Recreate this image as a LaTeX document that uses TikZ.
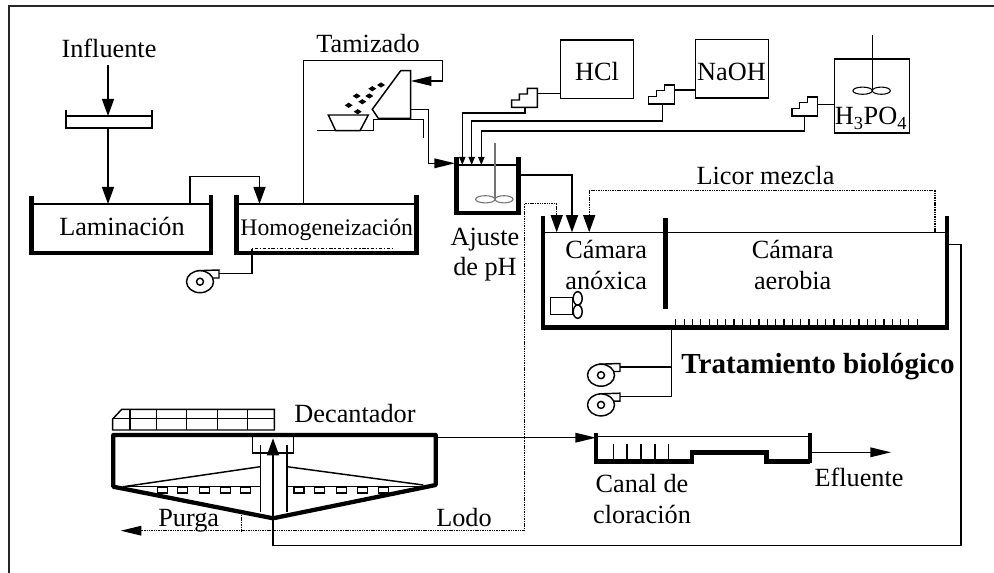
\documentclass[tikz,border=0pt]{standalone}
\usepackage{fontspec}
\setmainfont{Liberation Serif}
\usepackage{tikz}
\usetikzlibrary{positioning,arrows.meta}

\newcommand{\blowerAt}[2]{%
  \begin{scope}[shift={(#1,#2)}]
    \draw[pipe,fill=white] (-21,-2.8) -- (0,-3.5) -- (0,4.5) -- (-7,4.5);
    \draw[pipe,fill=white] (-19,8.2) ellipse [x radius=13.5,y radius=11];
    \draw[pipe] (-19,8.2) circle [radius=3.5];
  \end{scope}}
\newcommand{\pumpAt}[2]{%
  \draw[pipe] (#1,#2) -- ++(0,-7.3) -- ++(7.7,0) -- ++(0,-6) -- ++(8,0) -- ++(0,-5.7) -- ++(10,0) -- ++(0,19) -- cycle;}
\newcommand{\impeller}[2]{%
  \draw[#2] (#1) ++(-9.7,0) ellipse [x radius=9.7,y radius=3.6];
  \draw[#2] (#1) ++(9,0) ellipse [x radius=9,y radius=3.6];}

\begin{document}
\begin{tikzpicture}[
  x=0.75pt, y=-0.75pt,
  every node/.style={inner sep=0pt},
  lbl/.style={anchor=base, font=\fontsize{19.7}{23}\selectfont},
  twolines/.style={lbl, align=center},
  pipe/.style={line width=1.1pt, line join=miter},
  hair/.style={line width=0.8pt},
  frameline/.style={line width=1.5pt, black!85},
  wall/.style={line width=3.4pt, line join=miter},
  clar/.style={line width=3.2pt, line join=round, line cap=round},
  dotline/.style={line width=0.8pt, dash pattern=on 0.8pt off 0.5pt, black},
  gear/.style={line width=0.8pt, black!55},
  headA/.style={-{Triangle[length=12.8pt,width=9pt]}},
  headB/.style={-{Triangle[length=15.5pt,width=7.2pt]}},
  headC/.style={-{Triangle[length=6pt,width=4.6pt]}},
]
\useasboundingbox (0,0) rectangle (994,573);
\draw[frameline] (9,573) -- (9,6) -- (994,6);

% ---- texts
\node[lbl] (influente) at (109,57.3) {Influente};
\node[lbl] (tamizado) at (368,52.7) {Tamizado};
\node[lbl] (laminacion) at (122,236) {Laminación};
\node[lbl, font=\fontsize{17.8}{21}\selectfont] (homog) at (326.7,236) {Homogeneización};
\node[twolines] (ajuste) at (485,276) {Ajuste\\de pH};
\node[lbl] (licor) at (765.5,185) {Licor mezcla};
\node[twolines] (anoxica) at (606.2,289) {Cámara\\anóxica};
\node[twolines] (aerobia) at (792.7,289) {Cámara\\aerobia};
\node[lbl, font=\fontsize{21.8}{26}\selectfont\bfseries] (trat) at (818,373.3) {Tratamiento biológico};
\node[lbl] (decantador) at (355,422.7) {Decantador};
\node[lbl] (purga) at (188.7,526.7) {Purga};
\node[lbl] (lodo) at (464,526) {Lodo};
\node[twolines] (canal) at (642,523) {Canal de\\cloración};
\node[lbl] (efluente) at (859,486) {Efluente};

% ---- dosing tanks
\node[draw, line width=1.1pt, minimum width=54.4pt, minimum height=43.8pt] (hcl) at (597,69.2) {};
\node[lbl] at (597,80.7) {HCl};
\node[draw, line width=1.1pt, minimum width=54.4pt, minimum height=43.8pt] (naoh) at (732,68.8) {};
\node[lbl] at (731.5,80.7) {NaOH};
\node[draw, line width=1.1pt, minimum width=56.2pt, minimum height=55.5pt] (hpo) at (871.8,96) {};
\node[lbl] at (871,125) {H\textsubscript{3}PO\textsubscript{4}};
\draw[hair] (872.3,35) -- (872.3,90.7);
\coordinate (hpoMix) at (872.3,90.7);
\impeller{hpoMix}{hair}

% ---- pumps
\pumpAt{511.7}{107.3}
\pumpAt{648.7}{104}
\pumpAt{792}{116}
\coordinate (hclOut) at (537.3,93.7);
\coordinate (naohOut) at (674.4,90);
\coordinate (hpoOut) at (817.7,104.7);
\draw[pipe] (hclOut) -- (hclOut -| hcl.west);
\draw[pipe] (naohOut) -- (naohOut -| naoh.west);
\draw[pipe] (hpoOut) -- (hpoOut -| hpo.west);

% ---- influent and lamination
\coordinate (tray) at (108,116);
\coordinate (trayOut) at (108,128);
\coordinate (lamIn) at (108,204);
\coordinate (lamOut) at (190,204);
\coordinate (homIn) at (259.5,204);
\coordinate (homOut) at (303.3,204);
\draw[pipe] (66,110) -- (66,128) -- (152,128) -- (152,110) (66,116) -- (152,116);
\draw[pipe,headA] (108,65) -- (tray);
\draw[pipe,headA] (trayOut) -- (lamIn);
\draw[wall] (31.7,196) |- (211,253) -- (211,195);
\draw[pipe] (31.7,204) -- (211,204);
\draw[pipe,headA] (lamOut) -- ++(0,-27.5) -| (homIn);
\draw[wall] (236.5,195) |- (416.5,253) -- (416.5,195);
\draw[pipe] (236.5,204) -- (416.5,204);
\draw[hair, dash pattern=on 1pt off 1.4pt on 2.4pt off 1.4pt] (251.7,248.5) -- (393,248.5);

\coordinate (homDiff) at (252,249);
\coordinate (blowerA) at (219,273.5);
\blowerAt{219}{273.5}
\draw[pipe] (homDiff) |- (blowerA);

% ---- screen
\coordinate (screenIn) at (410.7,81);
\coordinate (screenOut) at (410.7,109.3);
\coordinate (phIn) at (455,163.3);
\draw[pipe] (400.7,70.7) -- (410.7,70.7) -- (410.7,118.3) -- (378.3,118.3) -- (372.3,109.3) -- cycle;
\draw[pipe] (316.7,130.7) -- (373.3,130.7) -- (373.3,119.6) -- (423.3,119.6) -- (423.3,138.3);
\draw[pipe] (328.3,115) -- (368.3,115) -- (360,130.7) -- (335.7,130.7) -- cycle;
\foreach \px/\py in {381/85,372.3/88.7,356.7/96,369.3/96,362.3/101.7,348.7/105.3,357.7/111.7}
  \fill (\px-4,\py) -- (\px,\py-2.6) -- (\px+4,\py) -- (\px,\py+2.6) -- cycle;
\draw[pipe,headB] (homOut) -- ++(0,-143.7) -- ++(139,0) |- (screenIn);
\draw[pipe,headB] (screenOut) -| (428.3,163.3) -- (phIn);

% ---- pH tank
\coordinate (phA) at (462.3,165);
\coordinate (phB) at (471.7,165);
\coordinate (phC) at (481.3,165);
\coordinate (phMix) at (495,199.3);
\coordinate (phOut) at (521,175);
\draw[wall] (456.3,157.3) |- (518.7,213) -- (518.7,157.3);
\draw[pipe] (456.3,165) -- (518.7,165);
\draw[gear] (495,142.7) -- (phMix);
\impeller{phMix}{gear}
\draw[pipe,headC] (525,107.3) |- (462.3,112.9) -- (phA);
\draw[pipe,headC] (662.3,104) |- (471.7,121) -- (phB);
\draw[pipe,headC] (804.3,116) |- (481.3,131) -- (phC);

% ---- biological tank
\coordinate (bioA) at (556.7,232.3);
\coordinate (bioB) at (572,232.3);
\coordinate (bioC) at (589.2,232.3);
\coordinate (bioOut) at (949,244.5);
\coordinate (bioAir) at (671.3,325);
\coordinate (mezclaOut) at (935,232.3);
\draw[wall] (543,216) |- (947,327.3) -- (947,216);
\draw[pipe] (543,232.3) -- (947,232.3);
\draw[wall] (665.7,218.3) -- (665.7,309);
\draw[pipe] (550.7,297.7) rectangle (572.3,314.3);
\draw[pipe] (577.7,298.4) ellipse [x radius=4.5,y radius=6.7];
\draw[pipe] (577.7,311.6) ellipse [x radius=4.5,y radius=6.7];
\foreach \tx in {0,...,29}
  \draw[hair] (675.7+8.33*\tx,319.3) -- ++(0,6);
\draw[pipe,headA] (phOut) -- ++(51,0) -- (bioB);
\draw[dotline,headA] (mezclaOut) |- (bioC |- 0,190.7) -- (bioC);

\blowerAt{620}{367}
\blowerAt{620}{396.7}
\coordinate (blowerB) at (620,367);
\coordinate (blowerC) at (620,396.7);
\draw[pipe] (bioAir) |- (blowerC);
\draw[pipe] (blowerB) -- (blowerB -| bioAir);

% ---- clarifier
\coordinate (clarOut) at (435.7,437.7);
\coordinate (clarWell) at (273,438.3);
\coordinate (clarSide) at (241.7,515);
\coordinate (purgaEnd) at (120.7,530.7);
\coordinate (lodoEnd) at (524.3,530.7);
\draw[pipe] (112.7,430) -- (112.7,419) -- (121.7,409.3) -- (274.3,409.3) -- (274.3,430) -- cycle;
\draw[pipe] (112.7,418.7) -- (274.3,418.7);
\foreach \bx in {130,156.7,186.7,217.3,247.3}
  \draw[pipe] (\bx,409.3) -- (\bx,430);
\draw[pipe] (252.3,435) |- (293.3,453) -- (293.3,435);
\draw[pipe] (260.3,445) -- (260.3,511.7);
\draw[pipe] (287,445) -- (287,511.7);
\draw[pipe] (123.3,486.7) -- (260.3,466.7);
\draw[pipe] (287,466.7) -- (423.3,485);
\draw[pipe] (123.3,486.7) -- (260.3,486.7);
\draw[pipe] (287,486.7) -- (423.3,486.7);
\foreach \sx in {157.7,177.7,199.3,220.7,240.7,294,314.7,336.7,357.7,378.3}
  \draw[pipe] (\sx,487.3) rectangle ++(10,5.7);
\draw[clar] (113.3,435) -- (435.7,435) -- (435.7,485) -- (273,518.3) -- (113.3,486.7) -- cycle;

% ---- chlorination channel
\coordinate (canalIn) at (596,437.7);
\coordinate (canalOut) at (812.4,452.3);
\draw[pipe] (596,436.7) -- (810,436.7);
\draw[wall] (596,433.3) -- (596,461.7) -- (691.9,461.7) -- (691.9,452.7) -- (766.3,452.7) -- (766.3,461.7) -- (810,461.7);
\draw[wall] (810,432.7) -- (810,463.4);
\foreach \kx in {613.5,627,640.8,654.8,668.5}
  \draw[pipe] (\kx,444.3) -- (\kx,461);
\draw[pipe,headB] (clarOut) -- (canalIn);
\draw[pipe,headB] (canalOut) -- (891,452.3);

% ---- sludge lines
\draw[dotline,headB] (lodoEnd) -- (purgaEnd);
\draw[dotline] (clarSide) -- (clarSide |- purgaEnd);
\draw[dotline,headA] (lodoEnd) -- ++(0,-327.4) -| (bioA);
\draw[pipe,headA] (bioOut) -| (961,545.7) -| (clarWell);
\end{tikzpicture}
\end{document}
